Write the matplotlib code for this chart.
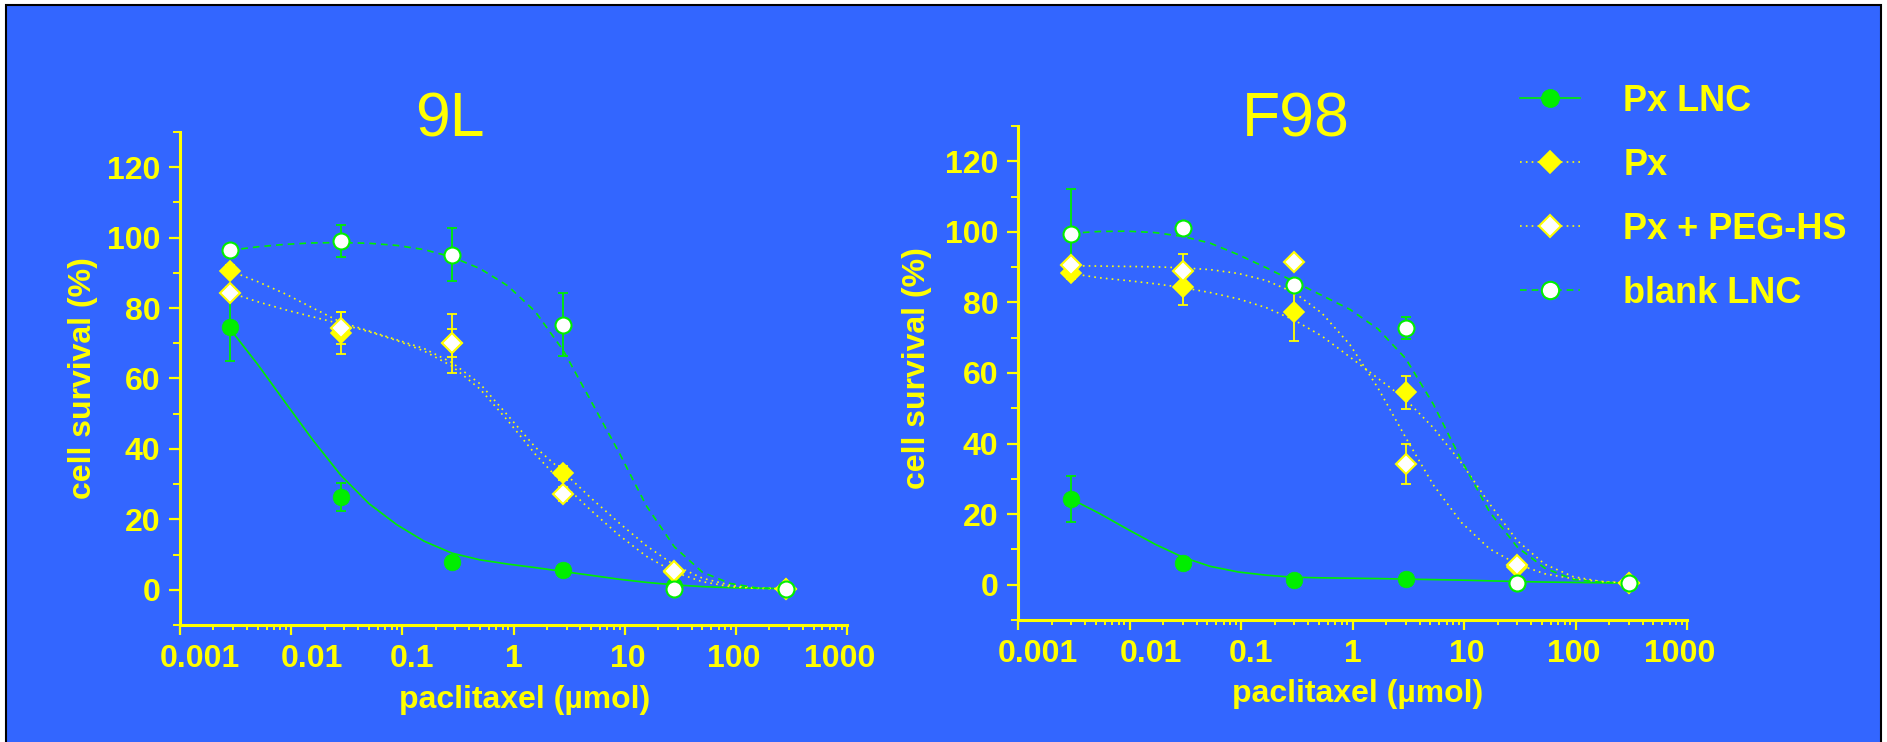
import matplotlib
matplotlib.use("Agg")
import matplotlib.pyplot as plt
from matplotlib.lines import Line2D
from matplotlib.patches import Rectangle
from matplotlib.transforms import ScaledTranslation

# Couleurs de la diapositive
BLEU = "#3366FF"
JAUNE = "#FFFF00"
VERT = "#00EE00"

noms = ["Px LNC", "Px", "Px + PEG-HS", "blank LNC"]

# Concentrations testées (µmol)
conc_9l = [0.0028, 0.028, 0.28, 2.8, 28, 280]
conc_f98 = [0.003, 0.03, 0.3, 3, 30, 300]

# 9L : survie cellulaire (%) et écart-type
lnc_9l = [74.5, 26.4, 7.8, 5.6, 1.0, 0.3]
lnc_9l_err = [9.4, 3.9, 1.0, 0.8, 0.5, 0.3]
px_9l = [90.6, 73.0, 70.0, 33.1, 5.0, 0.3]
px_9l_err = [1.5, 6.0, 8.3, 2.0, 1.0, 0.3]
peg_9l = [84.4, 74.3, 70.0, 27.1, 5.4, 0.3]
peg_9l_err = [1.5, 4.6, 4.0, 2.0, 1.0, 0.3]
blank_9l = [96.4, 99.1, 95.2, 75.3, 0.2, 0.2]
blank_9l_err = [1.5, 4.6, 7.6, 9.0, 0.8, 0.8]

# F98
lnc_f98 = [24.3, 6.2, 1.3, 1.6, 0.5, 0.5]
lnc_f98_err = [6.5, 0.8, 0.5, 0.5, 0.3, 0.3]
px_f98 = [88.2, 84.3, 77.4, 54.5, 5.0, 0.5]
px_f98_err = [1.5, 5.0, 8.3, 4.6, 1.0, 0.3]
peg_f98 = [90.6, 88.9, 91.4, 34.2, 5.6, 0.5]
peg_f98_err = [1.5, 4.8, 1.5, 5.6, 1.5, 0.5]
blank_f98 = [99.5, 101.2, 84.8, 72.7, 0.5, 0.5]
blank_f98_err = [12.6, 1.0, 1.5, 3.1, 1.5, 1.5]

# Courbes ajustées, relevées tous les quarts de décade
courbe_x_9l = [0.0028, 0.005, 0.0089, 0.0157, 0.028, 0.05, 0.089, 0.157,
               0.28, 0.5, 0.89, 1.57, 2.8, 5.0, 8.9, 15.7, 28, 50, 89, 157, 280]
courbe_lnc_9l = [74.2, 64.0, 53.1, 42.5, 32.5, 24.5, 18.5, 13.8, 10.4, 8.5,
                 7.3, 6.3, 5.2, 4.1, 3.0, 2.1, 1.4, 0.9, 0.6, 0.45, 0.35]
courbe_px_9l = [90.6, 87.5, 84.0, 80.0, 76.0, 73.5, 71.0, 68.5, 64.5, 58.5,
                49.5, 40.5, 33.5, 26.0, 19.0, 12.5, 7.0, 3.3, 1.3, 0.5, 0.3]
courbe_peg_9l = [84.4, 81.8, 79.5, 77.5, 75.5, 73.3, 70.8, 67.8, 63.5, 57.0,
                 48.0, 38.5, 30.0, 22.5, 15.5, 9.5, 5.0, 2.3, 0.9, 0.4, 0.3]
courbe_blank_9l = [96.4, 97.4, 98.1, 98.5, 98.6, 98.4, 97.8, 96.6, 94.5, 91.2,
                   86.3, 79.0, 68.0, 53.5, 39.0, 23.8, 12.2, 5.0, 1.8, 0.5, 0.2]

courbe_x_f98 = [0.003, 0.0053, 0.0095, 0.0169, 0.03, 0.053, 0.095, 0.169,
                0.3, 0.53, 0.95, 1.69, 3, 5.3, 9.5, 16.9, 30, 53, 95, 169, 300]
courbe_lnc_f98 = [24.3, 20.3, 15.8, 11.5, 7.8, 5.2, 3.6, 2.7, 2.1, 1.95,
                  1.85, 1.75, 1.6, 1.45, 1.3, 1.1, 0.9, 0.75, 0.65, 0.55, 0.5]
courbe_px_f98 = [88.2, 87.0, 86.2, 85.3, 84.2, 82.8, 81.0, 78.5, 75.0, 70.5,
                 64.5, 58.5, 52.5, 44.5, 34.5, 23.0, 12.5, 5.8, 2.3, 0.9, 0.4]
courbe_peg_f98 = [90.4, 90.3, 90.2, 90.1, 89.8, 89.3, 88.2, 86.2, 82.8, 77.0,
                  68.0, 55.8, 41.7, 28.3, 17.6, 10.2, 5.8, 3.1, 1.7, 0.9, 0.5]
courbe_blank_f98 = [99.6, 100.1, 100.2, 99.8, 98.7, 96.8, 93.5, 89.8, 85.9, 82.0,
                    78.0, 72.5, 64.1, 51.2, 35.2, 20.7, 10.7, 4.7, 1.5, 0.7, 0.4]

ticks_x = [0.001, 0.01, 0.1, 1, 10, 100, 1000]
labels_x = ["0.001", "0.01", "0.1", "1", "10", "100", "1000"]
ticks_y = [0, 20, 40, 60, 80, 100, 120]

# décalage horizontal (px) des étiquettes de l'axe x, comme sur l'original
decal_x = [20, 21, 10, 0, 3, -2, -7]

# Style de chaque série
styles = {
    "Px LNC": dict(marker="o", ms=12, mfc=VERT, mec=VERT, mew=0.5,
                   color=VERT, ls="-"),
    "Px": dict(marker="D", ms=10, mfc=JAUNE, mec=JAUNE, mew=1.2,
               color=JAUNE, ls=(0, (1, 2.5))),
    "Px + PEG-HS": dict(marker="D", ms=10, mfc="white", mec=JAUNE, mew=1.5,
                        color=JAUNE, ls=(0, (1, 2.5))),
    "blank LNC": dict(marker="o", ms=11.5, mfc="white", mec=VERT, mew=1.5,
                      color=VERT, ls=(0, (4, 3))),
}

police = "Liberation Sans"


def panneau(ax, conc, moyennes, erreurs, courbe_x, courbes, titre, y_titre,
            x_titre):
    for i, nom in enumerate(noms):
        st = styles[nom]
        ax.plot(courbe_x, courbes[i], color=st["color"], ls=st["ls"], lw=1.2,
                zorder=2)
        ax.errorbar(conc, moyennes[i], yerr=erreurs[i], fmt="none",
                    ecolor=st["color"], elinewidth=1.3, capsize=3.6,
                    capthick=1.3, zorder=3)
        ax.plot(conc, moyennes[i], ls="none", marker=st["marker"],
                ms=st["ms"], mfc=st["mfc"], mec=st["mec"], mew=st["mew"],
                zorder=4 + i)

    ax.set_xscale("log")
    ax.set_xlim(0.001, 1000)
    ax.set_ylim(-10, 130)
    ax.set_xticks(ticks_x, labels_x)
    ax.set_yticks(ticks_y)
    ax.set_yticks([-10, 10, 30, 50, 70, 90, 110, 130], minor=True)
    ax.patch.set_visible(False)

    for cote in ["top", "right"]:
        ax.spines[cote].set_visible(False)
    for cote in ["left", "bottom"]:
        ax.spines[cote].set_color(JAUNE)
        ax.spines[cote].set_linewidth(2.2)

    ax.tick_params(which="both", colors=JAUNE, direction="out")
    ax.tick_params(axis="x", which="major", length=7, width=1.6, pad=7)
    ax.tick_params(axis="x", which="minor", length=3.5, width=1.4)
    ax.tick_params(axis="y", which="major", length=8, width=1.6, pad=6)
    ax.tick_params(axis="y", which="minor", length=5, width=1.4)
    for lab in ax.get_xticklabels() + ax.get_yticklabels():
        lab.set_fontfamily(police)
        lab.set_fontweight("bold")
        lab.set_fontsize(23)
        lab.set_color(JAUNE)
    for tick, dx in zip(ax.xaxis.get_major_ticks(), decal_x):
        tick.label1.set_transform(tick.label1.get_transform() +
                                  ScaledTranslation(dx / 100, 0,
                                                    ax.figure.dpi_scale_trans))

    ax.set_xlabel("paclitaxel (µmol)", fontsize=23, fontweight="bold",
                  color=JAUNE, family=police)
    ax.set_ylabel("cell survival (%)", fontsize=23, fontweight="bold",
                  color=JAUNE, family=police)
    ax.xaxis.set_label_coords(*x_titre)
    ax.yaxis.set_label_coords(*y_titre)

    ax.text(titre[1], titre[2], titre[0], transform=ax.transAxes,
            ha="center", va="baseline", fontsize=45, color=JAUNE,
            family=police)


fig = plt.figure(figsize=(18.87, 7.42), dpi=100)
fig.patch.set_facecolor("white")
fig.add_artist(Rectangle((6 / 1887, -0.05), 1875 / 1887, 1 - 5 / 742 + 0.05,
                         transform=fig.transFigure, facecolor=BLEU,
                         edgecolor="black", lw=1.5, zorder=-10))

ax1 = fig.add_axes([180 / 1887, 1 - 625 / 742, 667 / 1887, 493 / 742])
ax2 = fig.add_axes([1018 / 1887, 1 - 620 / 742, 669 / 1887, 494 / 742])

panneau(ax1, conc_9l,
        [lnc_9l, px_9l, peg_9l, blank_9l],
        [lnc_9l_err, px_9l_err, peg_9l_err, blank_9l_err],
        courbe_x_9l,
        [courbe_lnc_9l, courbe_px_9l, courbe_peg_9l, courbe_blank_9l],
        ("9L", 0.405, 0.990), (-0.123, 0.50), (0.516, -0.122))

panneau(ax2, conc_f98,
        [lnc_f98, px_f98, peg_f98, blank_f98],
        [lnc_f98_err, px_f98_err, peg_f98_err, blank_f98_err],
        courbe_x_f98,
        [courbe_lnc_f98, courbe_px_f98, courbe_peg_f98, courbe_blank_f98],
        ("F98", 0.4155, 0.978), (-0.1285, 0.51), (0.508, -0.119))

# Légende commune, à droite
poignees = []
for nom in noms:
    st = styles[nom]
    poignees.append(Line2D([], [], color=st["color"], ls=st["ls"], lw=1.2,
                           marker=st["marker"], ms=st["ms"] + 1,
                           mfc=st["mfc"], mec=st["mec"], mew=st["mew"]))
fig.legend(poignees, noms, loc="upper left",
           bbox_to_anchor=(1520 / 1887, 1 - 84 / 742), frameon=False,
           prop=dict(family=police, weight="bold", size=26),
           labelcolor=JAUNE, handlelength=1.66, handletextpad=1.2,
           labelspacing=0.8, borderpad=0, borderaxespad=0)

fig.savefig("out.png", dpi=100)
